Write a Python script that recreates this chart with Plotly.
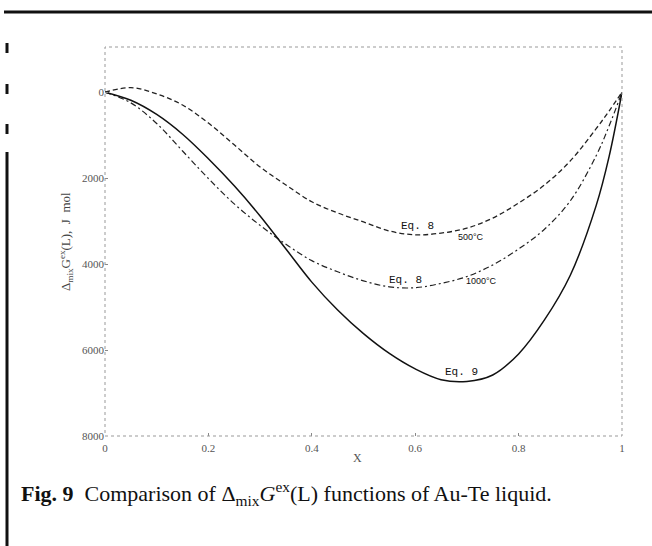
import plotly.graph_objects as go

# Composition (mole fraction of Te) and excess Gibbs energy of mixing, J/mol
x_te = [0, 0.05, 0.1, 0.15, 0.2, 0.25, 0.3, 0.35, 0.4, 0.45, 0.5, 0.55,
        0.6, 0.65, 0.7, 0.75, 0.8, 0.85, 0.9, 0.95, 0.975, 1.0]
g_eq9 = [0, -190, -520, -980, -1550, -2180, -2880, -3650, -4420, -5070, -5620,
         -6080, -6440, -6690, -6730, -6580, -6090, -5300, -4260, -2640, -1500, 0]
g_eq8_500 = [0, 105, -40, -300, -720, -1225, -1740, -2160, -2550, -2810, -3020,
             -3230, -3320, -3280, -3165, -2930, -2580, -2160, -1600, -850, -440, 0]
g_eq8_1000 = [0, -250, -730, -1370, -2010, -2600, -3100, -3540, -3920, -4180, -4390,
              -4530, -4550, -4450, -4290, -4020, -3650, -3190, -2530, -1480, -790, 0]

x_ticks = [0, 0.2, 0.4, 0.6, 0.8, 1]
x_tick_text = ["0", "0.2", "0.4", "0.6", "0.8", "1"]
y_ticks = [0, -2000, -4000, -6000, -8000]
y_tick_text = ["0", "2000", "4000", "6000", "8000"]

W, H = 652, 546
L, R, T, B = 105, 30, 47, 110
PW, PH = W - L - R, H - T - B


def px(xp):
    return (xp - L) / PW


def py(yp):
    return (H - B - yp) / PH


fig = go.Figure()
fig.add_trace(go.Scatter(x=x_te, y=g_eq8_500, mode="lines", line_shape="spline",
                         line=dict(color="#222", width=1.3, dash="5px,3px")))
fig.add_trace(go.Scatter(x=x_te, y=g_eq8_1000, mode="lines", line_shape="spline",
                         line=dict(color="#222", width=1.2, dash="6px,3px,2px,3px")))
fig.add_trace(go.Scatter(x=x_te, y=g_eq9, mode="lines", line_shape="spline",
                         line=dict(color="#111", width=1.5)))

tick_font = dict(family="Liberation Serif", size=11, color="#555")
fig.update_xaxes(range=[0, 1], tickvals=x_ticks, ticktext=x_tick_text,
                 showgrid=False, zeroline=False, showline=False,
                 ticks="inside", ticklen=3, tickcolor="#888", tickfont=tick_font,
                 ticklabelstandoff=4)
fig.update_yaxes(range=[-8000, 1050], tickvals=y_ticks, ticktext=y_tick_text,
                 showgrid=False, zeroline=False, showline=False,
                 ticks="inside", ticklen=3, tickcolor="#888", tickfont=tick_font)

shapes = [
    # dotted frame around the plotting area
    dict(type="rect", xref="paper", yref="paper", x0=0, x1=1, y0=0, y1=1,
         line=dict(color="#999", width=1, dash="dot")),
    # page rule at top
    dict(type="line", xref="paper", yref="paper", x0=px(4), x1=px(652),
         y0=py(12), y1=py(12), line=dict(color="#111", width=3)),
    # page margin bar on the left
    dict(type="line", xref="paper", yref="paper", x0=px(7), x1=px(7),
         y0=py(152), y1=py(546), line=dict(color="#111", width=3)),
]
for y0 in (43, 84, 124):
    shapes.append(dict(type="line", xref="paper", yref="paper", x0=px(7), x1=px(7),
                       y0=py(y0), y1=py(y0 + 10), line=dict(color="#111", width=3)))

eq_font = dict(family="Liberation Mono", size=11, color="#111")
t_font = dict(family="Liberation Sans", size=9, color="#111")
annotations = [
    dict(x=0.605, y=-3110, text="Eq. 8", font=eq_font),
    dict(x=0.708, y=-3380, text="500°C", font=t_font),
    dict(x=0.582, y=-4360, text="Eq. 8", font=eq_font),
    dict(x=0.729, y=-4390, text="1000°C", font=t_font),
    dict(x=0.689, y=-6510, text="Eq. 9", font=eq_font),
    dict(xref="paper", yref="paper", x=px(357), y=py(467), text="X",
         font=dict(family="Liberation Serif", size=12, color="#555")),
    dict(xref="paper", yref="paper", x=px(55), y=py(242), textangle=-90,
         text="Δ<sub>mix</sub>G<sup>ex</sup>(L),  J  mol",
         font=dict(family="Liberation Serif", size=13, color="#444")),
    dict(xref="paper", yref="paper", x=px(19), y=py(511), xanchor="left",
         text="<b>Fig. 9</b>  Comparison of Δ<sub>mix</sub><i>G</i><sup>ex</sup>(L) functions of Au-Te liquid.",
         font=dict(family="Liberation Serif", size=22, color="#111")),
]
for a in annotations:
    a.setdefault("showarrow", False)

fig.update_layout(width=W, height=H, margin=dict(l=L, r=R, t=T, b=B),
                  paper_bgcolor="white", plot_bgcolor="white", showlegend=False,
                  shapes=shapes, annotations=annotations)

fig.write_html("out.html")
